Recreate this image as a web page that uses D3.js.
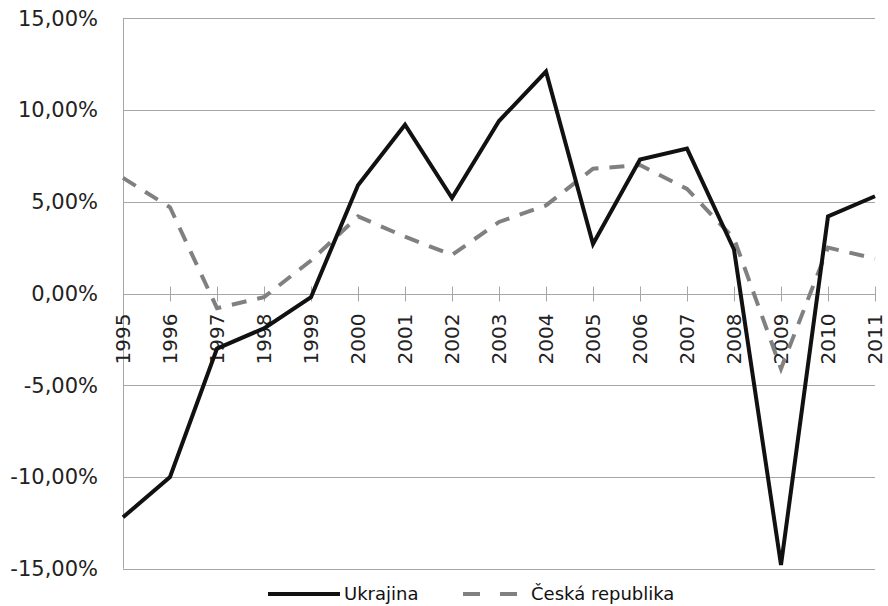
<!DOCTYPE html>
<html><head><meta charset="utf-8">
<script src="https://cdn.jsdelivr.net/npm/d3@7"></script>
<style>body{margin:0;background:#fff}</style>
</head><body>
<script>
const years = [1995,1996,1997,1998,1999,2000,2001,2002,2003,2004,2005,2006,2007,2008,2009,2010,2011];
const ukrajina = [-12.2,-10.0,-3.0,-1.9,-0.2,5.9,9.2,5.2,9.4,12.1,2.7,7.3,7.9,2.4,-14.8,4.2,5.3];
const cesko = [6.3,4.7,-0.8,-0.2,1.8,4.2,3.1,2.1,3.9,4.8,6.8,7.0,5.7,3.0,-4.1,2.5,1.9];
const yTicks = [-15,-10,-5,0,5,10,15];
const seriesNames = ["Ukrajina","Česká republika"];

const W=888,H=606;
const m={l:123,r:875,t:18.3,b:568.7};
const svg=d3.select("body").append("svg").attr("width",W).attr("height",H);
const x=d3.scalePoint().domain(years).range([m.l,m.r]);
const y=d3.scaleLinear().domain([-15,15]).range([m.b,m.t]);
const fmt=v=>v.toFixed(2).replace(".",",")+"%";

// gridlines
svg.append("g").selectAll("line").data(yTicks).join("line")
  .attr("x1",m.l).attr("x2",m.r).attr("y1",d=>Math.round(y(d))+0.5).attr("y2",d=>Math.round(y(d))+0.5)
  .attr("stroke","#a6a6a6").attr("stroke-width",1);
// y axis line
svg.append("line").attr("x1",m.l+0.5).attr("x2",m.l+0.5).attr("y1",y(15)).attr("y2",y(-15))
  .attr("stroke","#a6a6a6");
// y labels
svg.append("g").selectAll("text").data(yTicks).join("text")
  .attr("x",98).attr("y",d=>y(d)).attr("dy","0.35em").attr("text-anchor","end")
  .attr("font-family","DejaVu Sans").attr("font-size",21).attr("fill","#222")
  .text(fmt);
// x axis ticks
const y0=Math.round(y(0))+0.5;
svg.append("g").selectAll("line").data(years).join("line")
  .attr("x1",d=>Math.round(x(d))+0.5).attr("x2",d=>Math.round(x(d))+0.5)
  .attr("y1",y0-8).attr("y2",y0+7).attr("stroke","#a6a6a6");
// x labels
svg.append("g").selectAll("text").data(years).join("text")
  .attr("transform",d=>`translate(${x(d)+7},${y0+19}) rotate(-90)`)
  .attr("text-anchor","end")
  .attr("font-family","DejaVu Sans").attr("font-size",20).attr("fill","#222")
  .text(d=>d);

const line=d3.line().x((d,i)=>x(years[i])).y(d=>y(d));
svg.append("path").datum(cesko).attr("d",line).attr("fill","none")
  .attr("stroke","#808080").attr("stroke-width",4).attr("stroke-dasharray","15,11");
svg.append("path").datum(ukrajina).attr("d",line).attr("fill","none")
  .attr("stroke","#111").attr("stroke-width",4).attr("stroke-linejoin","miter");

// legend
const lg=svg.append("g").attr("font-family","DejaVu Sans").attr("font-size",18).attr("fill","#111");
lg.append("line").attr("x1",268).attr("x2",340).attr("y1",594).attr("y2",594).attr("stroke","#111").attr("stroke-width",4);
lg.append("text").attr("x",344).attr("y",594).attr("dy","0.35em").text(seriesNames[0]);
lg.append("line").attr("x1",463).attr("x2",519).attr("y1",594).attr("y2",594).attr("stroke","#808080").attr("stroke-width",4).attr("stroke-dasharray","17,20");
lg.append("text").attr("x",531).attr("y",594).attr("dy","0.35em").text(seriesNames[1]);
</script>
</body></html>
